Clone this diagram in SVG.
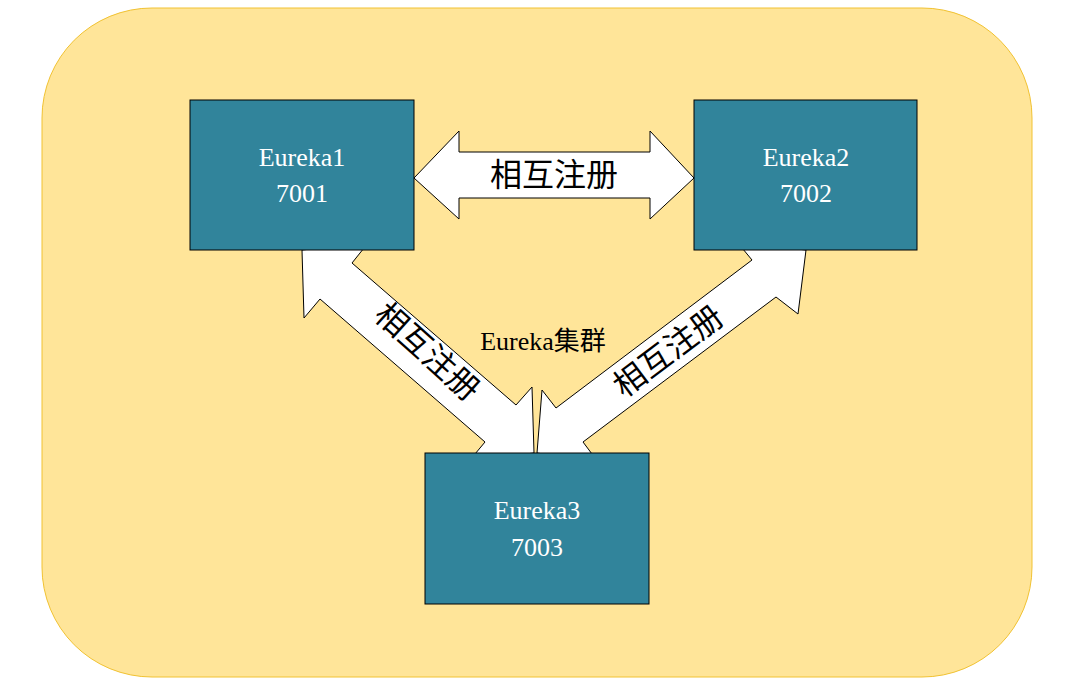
<svg xmlns="http://www.w3.org/2000/svg" width="1069" height="695" viewBox="0 0 1069 695">
<style>
.n{fill:#31849B;stroke:#000;stroke-width:1}
.t{font-family:"Liberation Serif","Noto Sans CJK SC",serif;font-size:26px;fill:#fff;text-anchor:middle}
.a{fill:#fff;stroke:#000;stroke-width:1;stroke-linejoin:miter}
.l{font-family:"Liberation Serif","Noto Sans CJK SC",serif;font-size:32px;fill:#000;text-anchor:middle}
</style>
<rect x="42" y="8" width="990" height="669" rx="110" fill="#FFE599" stroke="#F1C232"/>
<g id="connectors">
<polygon class="a" points="414,178 459,131 459,152 650,152 650,131 694,178 650,219 650,198 459,198 459,219"/>
<polygon class="a" points="302,250 368,243 352,263 516,405 532,387 534,453 470,460 485,442 320,299 304,318"/>
<polygon class="a" points="806,250 798,314 776,297 583,442 598,462 537,453 542,390 556,408 752,260 738,243"/>
<text class="l" x="554" y="186">相互注册</text>
<text class="l" transform="translate(420,360) rotate(42)">相互注册</text>
<text class="l" transform="translate(675,360) rotate(-37)">相互注册</text>
<text class="l" x="543" y="350" style="font-size:26px">Eureka集群</text>
</g>
<g id="eureka1"><rect class="n" x="190" y="100" width="224" height="150"/><text class="t" x="302" y="166">Eureka1</text><text class="t" x="302" y="202">7001</text></g>
<g id="eureka2"><rect class="n" x="694" y="100" width="223" height="150"/><text class="t" x="806" y="166">Eureka2</text><text class="t" x="806" y="202">7002</text></g>
<g id="eureka3"><rect class="n" x="425" y="453" width="224" height="151"/><text class="t" x="537" y="519">Eureka3</text><text class="t" x="537" y="556">7003</text></g>
</svg>
